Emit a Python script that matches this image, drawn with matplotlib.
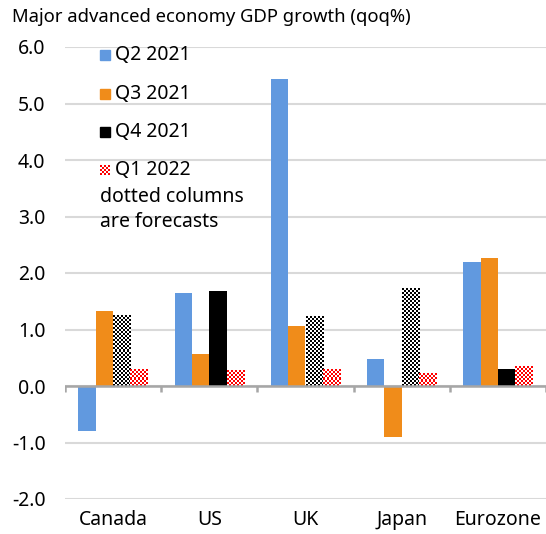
import numpy as np
import matplotlib.pyplot as plt
from matplotlib.patches import Rectangle
from matplotlib.colors import to_rgb

plt.rcParams['font.family'] = ['Noto Sans', 'DejaVu Sans']

countries = ['Canada', 'US', 'UK', 'Japan', 'Eurozone']
quarters = ['Q2 2021', 'Q3 2021', 'Q4 2021', 'Q1 2022']
q2_2021 = [-0.80, 1.65, 5.43, 0.48, 2.20]
q3_2021 = [1.33, 0.56, 1.06, -0.90, 2.26]
q4_2021 = [1.25, 1.68, 1.23, 1.73, 0.30]
q1_2022 = [0.30, 0.28, 0.30, 0.23, 0.34]
# forecast columns are drawn dotted
q4_forecast = [True, False, True, True, False]
q1_forecast = [True, True, True, True, True]

colors = ['#6199df', '#f08c1a', '#000000', '#ff0000']


def checker_img(nx, ny, color):
    grid = np.add.outer(np.arange(ny), np.arange(nx)) % 2
    img = np.ones((ny, nx, 3))
    img[grid == 0] = to_rgb(color)
    return img


def dot_bar(ax, bar, color):
    x0, y0 = bar.get_x(), bar.get_y()
    w, h = bar.get_width(), bar.get_height()
    (px0, py0), (px1, py1) = ax.transData.transform([(x0, y0), (x0 + w, y0 + h)])
    nx = max(1, round(abs(px1 - px0) / 2))
    ny = max(1, round(abs(py1 - py0) / 2))
    ax.imshow(checker_img(nx, ny, color), extent=(x0, x0 + w, y0, y0 + h),
              aspect='auto', interpolation='nearest', zorder=3)


fig = plt.figure(figsize=(5.46, 5.34), dpi=100)
ax = fig.add_axes([65 / 546, 1 - 499 / 534, 481 / 546, 452 / 534])
ax.set_xlim(-0.5, 4.5)
ax.set_ylim(-2, 6)

x = np.arange(len(countries))
w = 0.18
series = [q2_2021, q3_2021, q4_2021, q1_2022]
flags = [None, None, q4_forecast, q1_forecast]
for i, (vals, col, fl) in enumerate(zip(series, colors, flags)):
    bars = ax.bar(x + (i - 1.5) * w, vals, w, color=col, zorder=2)
    if fl is not None:
        for b, f in zip(bars, fl):
            if f:
                dot_bar(ax, b, col)
ax.set_xlim(-0.5, 4.5)
ax.set_ylim(-2, 6)

ax.set_yticks(np.arange(-2, 7, 1))
ax.set_yticklabels([f'{v:.1f}' for v in np.arange(-2, 7, 1)])
ax.set_xticks(x)
ax.set_xticklabels(countries)
ax.tick_params(axis='both', length=0, labelsize=14, colors='black')
ax.tick_params(axis='y', pad=14)
ax.tick_params(axis='x', pad=8)
ax.yaxis.grid(True, color='#d9d9d9', lw=1.5)
ax.set_axisbelow(True)
for s in ax.spines.values():
    s.set_visible(False)

ax.axhline(0, color='#a6a6a6', lw=1.8, zorder=4)
ax.vlines(np.arange(-0.5, 5, 1), -0.11, 0, color='#a6a6a6', lw=1.8, zorder=4)

fig.text(12 / 546, 1 - 17 / 534, 'Major advanced economy GDP growth (qoq%)',
         va='center', ha='left', fontsize=13.3)

# legend
ys = [55, 94, 132, 170]
for q, col, yy in zip(quarters, colors, ys):
    if q == 'Q1 2022':
        lax = fig.add_axes([100 / 546, 1 - (yy + 5) / 534, 10 / 546, 10 / 534])
        lax.imshow(checker_img(5, 5, col), interpolation='nearest', aspect='auto')
        lax.axis('off')
    else:
        fig.patches.append(Rectangle((100 / 546, 1 - (yy + 5) / 534), 10 / 546, 10 / 534,
                                     transform=fig.transFigure, color=col))
    fig.text(115 / 546, 1 - yy / 534, q, va='center', ha='left', fontsize=14)
fig.text(100 / 546, 1 - 197 / 534, 'dotted columns', va='center', ha='left', fontsize=14)
fig.text(100 / 546, 1 - 222 / 534, 'are forecasts', va='center', ha='left', fontsize=14)

plt.savefig('out.png')
